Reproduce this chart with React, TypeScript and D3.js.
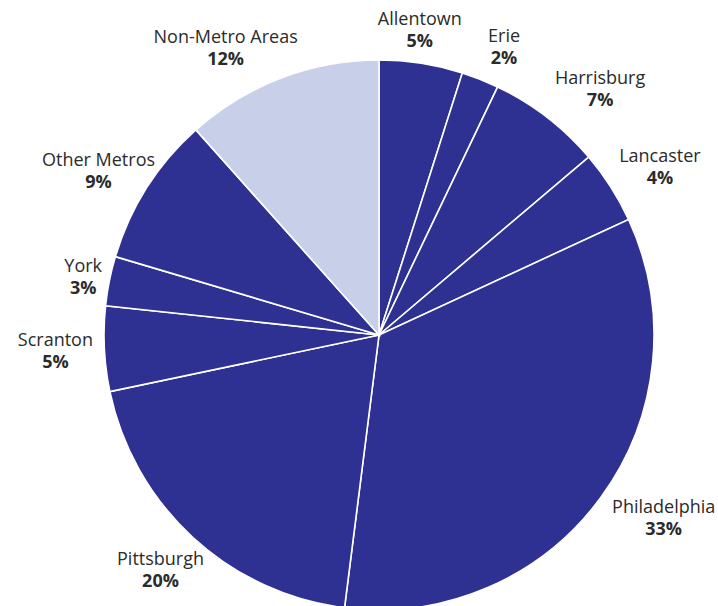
import * as d3 from "d3";

// slice shares (%), clockwise from 12 o'clock
const regions = [
  "Allentown",
  "Erie",
  "Harrisburg",
  "Lancaster",
  "Philadelphia",
  "Pittsburgh",
  "Scranton",
  "York",
  "Other Metros",
  "Non-Metro Areas",
];
const shares = [4.9, 2.2, 6.7, 4.3, 33.9, 19.7, 5.0, 2.9, 8.8, 11.6];
const shareLabels = ["5%", "2%", "7%", "4%", "33%", "20%", "5%", "3%", "9%", "12%"];

// label nudges from the label ring
const nudge: [number, number][] = [
  [-8, 4],
  [8, 3],
  [27, 1],
  [13, -2],
  [28, -10],
  [-3, -4],
  [-6, -5],
  [16, 0],
  [-12, 1],
  [-40, 5],
];

const W = 718,
  H = 606;
const cx = 379,
  cy = 335,
  radius = 275;

export default function App() {
  const pie = d3
    .pie<number>()
    .sort(null)
    .value((d) => d);
  const arcs = pie(shares);

  const arc = d3.arc<d3.PieArcDatum<number>>().innerRadius(0).outerRadius(radius);
  const labelArc = d3.arc<d3.PieArcDatum<number>>().innerRadius(318).outerRadius(318);

  return (
    <svg
      width={W}
      height={H}
      style={{ position: "absolute", left: 0, top: 0, background: "white" }}
      fontFamily="'Open Sans', sans-serif"
    >
      <g transform={`translate(${cx},${cy})`}>
        {arcs.map((a, i) => (
          <path
            key={regions[i]}
            d={arc(a) || ""}
            fill={i === regions.length - 1 ? "#c8cfe9" : "#2e3192"}
            stroke="white"
            strokeWidth={1.6}
          />
        ))}
        {arcs.map((a, i) => {
          const [lx, ly] = labelArc.centroid(a);
          const x = lx + nudge[i][0];
          const y = ly + nudge[i][1];
          return (
            <g key={"l" + i} fill="#2b2b2b" textAnchor="middle">
              <text x={x} y={y} fontSize={18}>
                {regions[i]}
              </text>
              <text x={x} y={y + 22} fontSize={18} fontWeight="bold">
                {shareLabels[i]}
              </text>
            </g>
          );
        })}
      </g>
    </svg>
  );
}
